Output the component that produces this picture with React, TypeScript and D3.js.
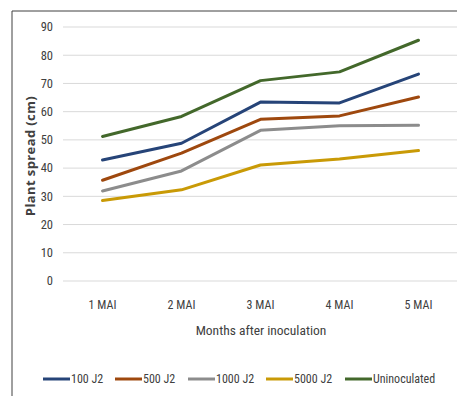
import React from "react";
import * as d3 from "d3";

const categories = ["1 MAI", "2 MAI", "3 MAI", "4 MAI", "5 MAI"];
const seriesNames = ["100 J2", "500 J2", "1000 J2", "5000 J2", "Uninoculated"];
const s100 = [42.9, 48.8, 63.4, 63.1, 73.3];
const s500 = [35.7, 45.3, 57.3, 58.5, 65.2];
const s1000 = [31.9, 39.0, 53.4, 55.0, 55.2];
const s5000 = [28.5, 32.3, 41.1, 43.2, 46.2];
const sUnin = [51.2, 58.3, 71.0, 74.1, 85.3];
const yTicks = [0, 10, 20, 30, 40, 50, 60, 70, 80, 90];
const colors = ["#264478", "#9E480E", "#8C8C8C", "#C99A06", "#43682B"];

const W = 457;
const H = 396;
const FONT = "'Liberation Sans Narrow', 'Roboto Condensed', Roboto, sans-serif";

export default function App() {
  const data = [s100, s500, s1000, s5000, sUnin];
  const x = d3.scaleBand<string>().domain(categories).range([63, 458]);
  const y = d3.scaleLinear().domain([0, 90]).range([281, 27]);
  const line = d3
    .line<number>()
    .x((_, i) => (x(categories[i]) as number) + x.bandwidth() / 2)
    .y((d) => y(d));

  const legendX = [43, 115, 188, 266, 345];

  return (
    <svg
      width={W}
      height={H}
      style={{ position: "absolute", left: 0, top: 0 }}
      fontFamily={FONT}
    >
      <rect x={0} y={0} width={W} height={H} fill="#fff" />
      <line x1={12} y1={11} x2={W} y2={11} stroke="#404040" strokeWidth={1} />
      <line x1={12} y1={11} x2={12} y2={H} stroke="#404040" strokeWidth={1} />
      {yTicks.map((t) => (
        <g key={t}>
          <line x1={63} x2={W} y1={y(t)} y2={y(t)} stroke="#d9d9d9" strokeWidth={1} />
          <text x={53} y={y(t)} dy="0.35em" textAnchor="end" fontSize={12.5} fill="#404040">
            {t}
          </text>
        </g>
      ))}
      {categories.map((c) => (
        <text
          key={c}
          x={(x(c) as number) + x.bandwidth() / 2}
          y={305}
          dy="0.35em"
          textAnchor="middle"
          fontSize={12}
          fill="#404040"
        >
          {c}
        </text>
      ))}
      <text x={261} y={330} dy="0.35em" textAnchor="middle" fontSize={13.5} fill="#404040">
        Months after inoculation
      </text>
      <text
        transform="translate(30,156) rotate(-90)"
        textAnchor="middle"
        dy="0.35em"
        fontSize={13}
        fontWeight="bold"
        fill="#404040"
        fontFamily="'Open Sans', sans-serif"
        letterSpacing={0.4}
      >
        Plant spread (cm)
      </text>
      {data.map((d, i) => (
        <path
          key={seriesNames[i]}
          d={line(d) as string}
          fill="none"
          stroke={colors[i]}
          strokeWidth={3}
          strokeLinejoin="round"
          strokeLinecap="round"
        />
      ))}
      {seriesNames.map((n, i) => (
        <g key={n}>
          <line
            x1={legendX[i]}
            x2={legendX[i] + 27}
            y1={379}
            y2={379}
            stroke={colors[i]}
            strokeWidth={3}
          />
          <text x={legendX[i] + 28} y={379} dy="0.35em" fontSize={12} fill="#404040">
            {n}
          </text>
        </g>
      ))}
    </svg>
  );
}
